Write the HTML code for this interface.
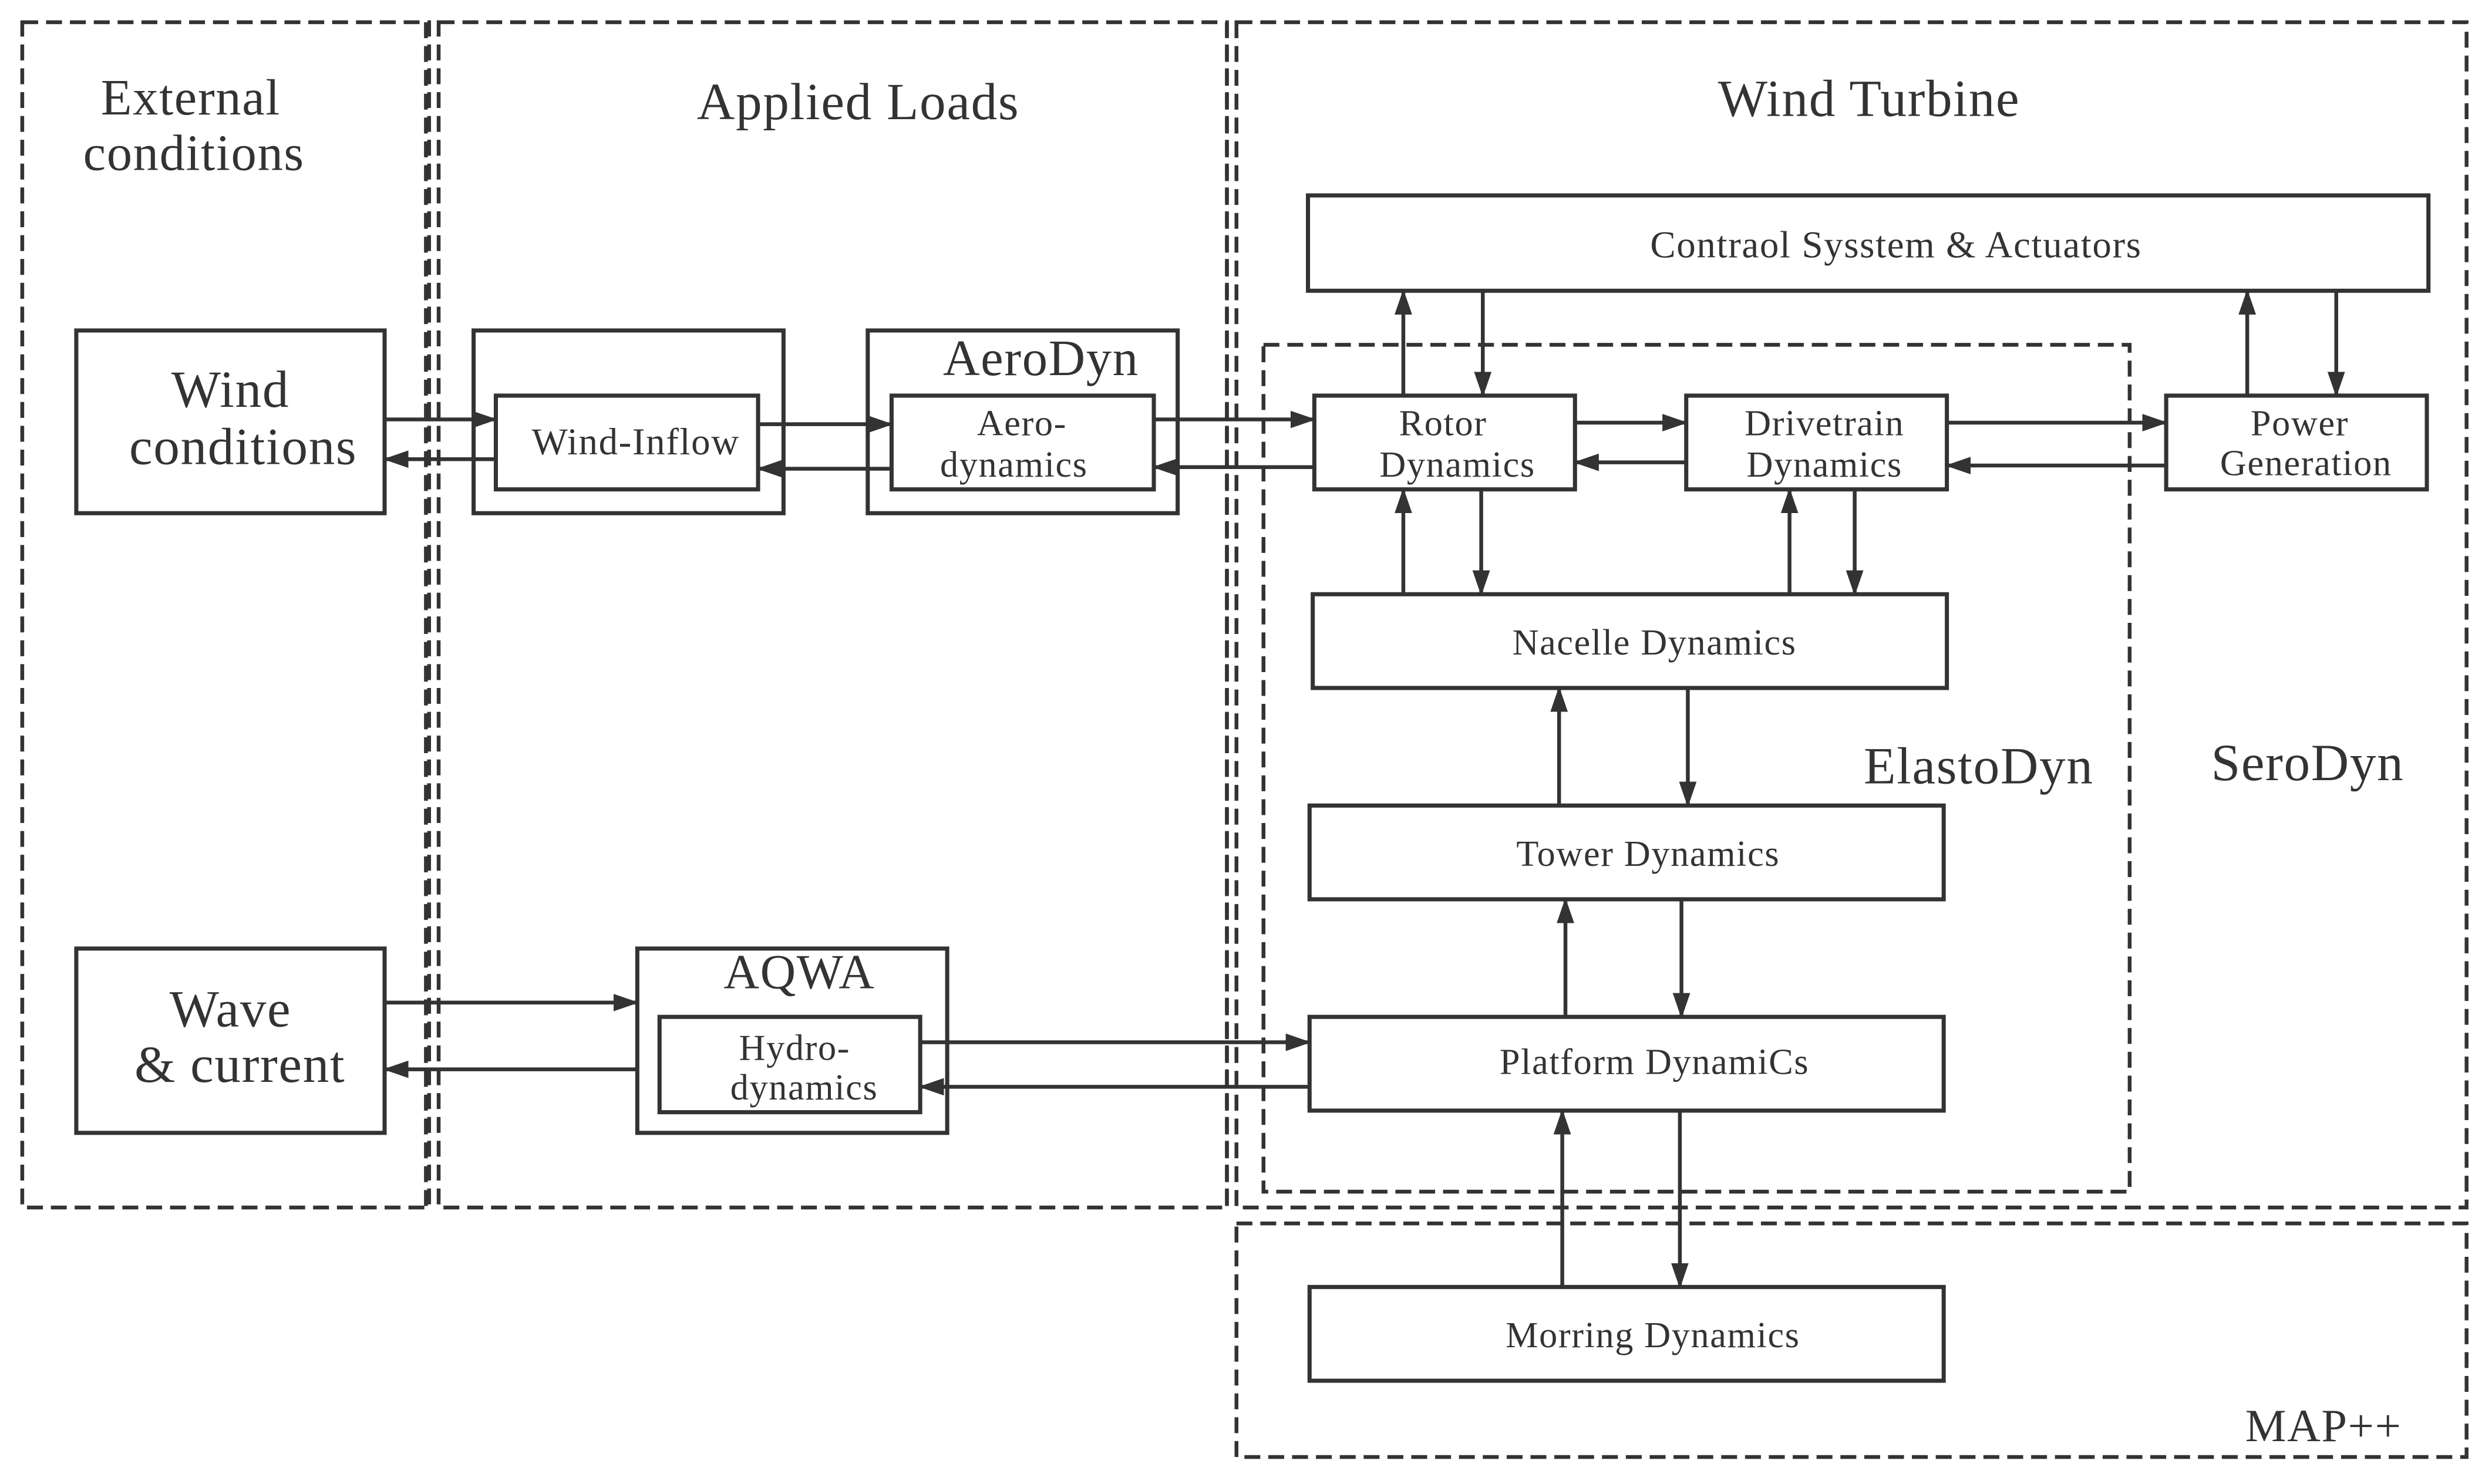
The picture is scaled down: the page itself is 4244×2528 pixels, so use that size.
<!DOCTYPE html>
<html><head><meta charset="utf-8"><style>
html,body{margin:0;padding:0;background:#fff;}
svg{display:block;}
text{font-family:"Liberation Serif",serif;fill:#333;text-anchor:middle;letter-spacing:0.6px;}
</style></head><body>
<svg width="4244" height="2528" viewBox="0 0 1568 934" preserveAspectRatio="none" xmlns="http://www.w3.org/2000/svg">
<defs>
<marker id="b" markerWidth="16" markerHeight="11" refX="15" refY="5.5" orient="auto" markerUnits="userSpaceOnUse">
<path d="M0,0 L16,5.5 L0,11 z" fill="#333"/></marker>
</defs>
<g fill="none" stroke="#333" stroke-width="2.4" stroke-dasharray="10,5">
<rect x="14" y="14" width="256" height="746"/>
<rect x="276" y="14" width="496" height="746"/>
<line x1="268" y1="14" x2="268" y2="760"/>
<rect x="778" y="14" width="774" height="746"/>
<line x1="772" y1="14" x2="772" y2="760"/>
<rect x="795" y="217" width="545" height="533"/>
<rect x="778" y="770" width="774" height="147"/>
</g>
<g fill="#fff" stroke="#333" stroke-width="2.6">
<rect x="48" y="208" width="194" height="115"/>
<rect x="298" y="208" width="195" height="115"/>
<rect x="312" y="249" width="165" height="59"/>
<rect x="546" y="208" width="195" height="115"/>
<rect x="561" y="249" width="165" height="59"/>
<rect x="823" y="123" width="705" height="60"/>
<rect x="827" y="249" width="164" height="59"/>
<rect x="1061" y="249" width="164" height="59"/>
<rect x="1363" y="249" width="164" height="59"/>
<rect x="826" y="374" width="399" height="59"/>
<rect x="824" y="507" width="399" height="59"/>
<rect x="824" y="640" width="399" height="59"/>
<rect x="824" y="810" width="399" height="59"/>
<rect x="48" y="597" width="194" height="116"/>
<rect x="401" y="597" width="195" height="116"/>
<rect x="415" y="640" width="164" height="60"/>
</g>
<g stroke="#333" stroke-width="2.4" marker-end="url(#b)">
<line x1="242" y1="264" x2="312" y2="264"/>
<line x1="312" y1="289" x2="242" y2="289"/>
<line x1="477" y1="267" x2="561" y2="267"/>
<line x1="561" y1="295" x2="477" y2="295"/>
<line x1="726" y1="264" x2="827" y2="264"/>
<line x1="827" y1="294" x2="726" y2="294"/>
<line x1="991" y1="266" x2="1061" y2="266"/>
<line x1="1061" y1="291" x2="991" y2="291"/>
<line x1="1225" y1="266" x2="1363" y2="266"/>
<line x1="1363" y1="293" x2="1225" y2="293"/>
<line x1="883" y1="249" x2="883" y2="183"/>
<line x1="933" y1="183" x2="933" y2="249"/>
<line x1="1414" y1="249" x2="1414" y2="183"/>
<line x1="1470" y1="183" x2="1470" y2="249"/>
<line x1="883" y1="374" x2="883" y2="308"/>
<line x1="932" y1="308" x2="932" y2="374"/>
<line x1="1126" y1="374" x2="1126" y2="308"/>
<line x1="1167" y1="308" x2="1167" y2="374"/>
<line x1="981" y1="507" x2="981" y2="433"/>
<line x1="1062" y1="433" x2="1062" y2="507"/>
<line x1="985" y1="640" x2="985" y2="566"/>
<line x1="1058" y1="566" x2="1058" y2="640"/>
<line x1="983" y1="810" x2="983" y2="699"/>
<line x1="1057" y1="699" x2="1057" y2="810"/>
<line x1="242" y1="631" x2="401" y2="631"/>
<line x1="401" y1="673" x2="242" y2="673"/>
<line x1="579" y1="656" x2="824" y2="656"/>
<line x1="824" y1="684" x2="579" y2="684"/>
</g>
<text x="120" y="72" font-size="32">External</text>
<text x="122" y="107" font-size="32">conditions</text>
<text x="540" y="75" font-size="33">Applied Loads</text>
<text x="1176" y="73" font-size="33">Wind Turbine</text>
<text x="1245" y="493" font-size="33">ElastoDyn</text>
<text x="1452" y="491" font-size="33">SeroDyn</text>
<text x="1462" y="907" font-size="29">MAP++</text>
<text x="145" y="256" font-size="33">Wind</text>
<text x="153" y="292" font-size="33">conditions</text>
<text x="400" y="286" font-size="24">Wind-Inflow</text>
<text x="655" y="236" font-size="32">AeroDyn</text>
<text x="643" y="274" font-size="23">Aero-</text>
<text x="638" y="300" font-size="23">dynamics</text>
<text x="1193" y="162" font-size="24">Contraol Sysstem &amp; Actuators</text>
<text x="908" y="274" font-size="23">Rotor</text>
<text x="917" y="300" font-size="23">Dynamics</text>
<text x="1148" y="274" font-size="23">Drivetrain</text>
<text x="1148" y="300" font-size="23">Dynamics</text>
<text x="1447" y="274" font-size="23">Power</text>
<text x="1451" y="299" font-size="23">Generation</text>
<text x="1041" y="412" font-size="23">Nacelle Dynamics</text>
<text x="1037" y="545" font-size="23">Tower Dynamics</text>
<text x="1041" y="676" font-size="23">Platform DynamiCs</text>
<text x="1040" y="848" font-size="23">Morring Dynamics</text>
<text x="145" y="646" font-size="33">Wave</text>
<text x="151" y="681" font-size="33">&amp; current</text>
<text x="503" y="622" font-size="31">AQWA</text>
<text x="500" y="667" font-size="23">Hydro-</text>
<text x="506" y="692" font-size="23">dynamics</text>
</svg>
</body></html>
